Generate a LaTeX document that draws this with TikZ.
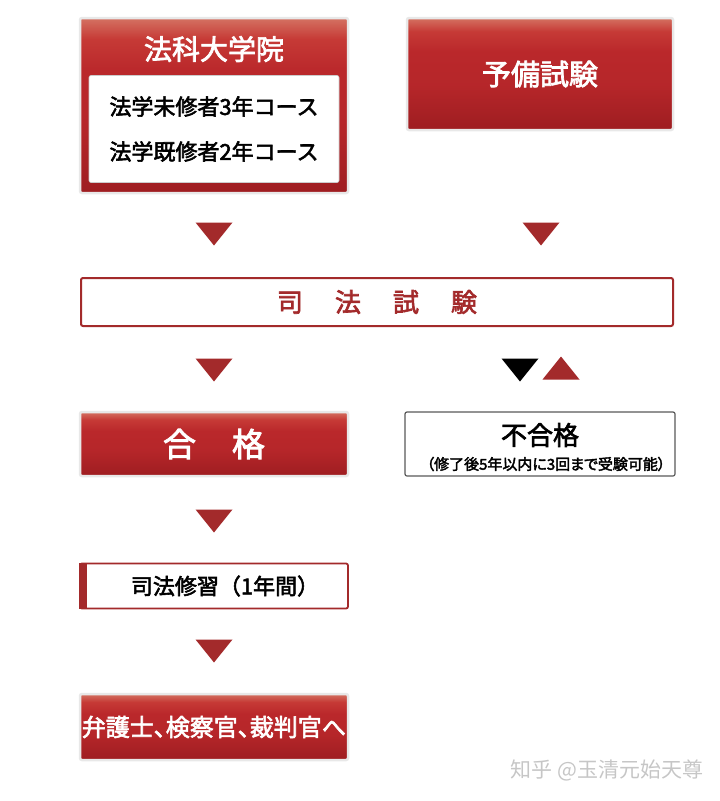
\documentclass[tikz,border=0pt]{standalone}
\usepackage{fontspec}
\setmainfont{Noto Sans CJK JP}[AutoFakeBold=2.5]
\newfontfamily\palt{Noto Sans CJK JP}[AutoFakeBold=2.5, RawFeature=+palt]
\newfontfamily\zhfont{Noto Sans CJK SC}
\usetikzlibrary{positioning}
\definecolor{trired}{HTML}{A32A2B}
\definecolor{redtop}{HTML}{D47262}
\definecolor{redhi}{HTML}{C63A36}
\definecolor{redmid}{HTML}{BA282B}
\definecolor{redbot}{HTML}{9E1D21}
\pgfdeclareverticalshading{redgloss}{100bp}{color(0bp)=(redbot); color(25bp)=(redbot);
	color(45bp)=(redmid!85!redbot); color(60bp)=(redmid); color(69bp)=(redhi); color(75bp)=(redtop); color(100bp)=(redtop)}
\newcommand{\fs}[1]{\fontsize{#1}{#1}\selectfont}

\begin{document}
\begin{tikzpicture}[x=1pt, y=-1pt,
	redbox/.style={draw=gray!18, line width=2.5pt, rounded corners=2pt,
		shading=redgloss, text=white, font=\bfseries, inner sep=0pt},
	whitebox/.style={fill=white, rounded corners=2pt, inner sep=0pt},
	tridown/.pic={\fill[trired] (-18.5,-11.5) -- (18.5,-11.5) -- (0,11.5) -- cycle;},
	blacktri/.pic={\fill[black] (-18.5,-11.5) -- (18.5,-11.5) -- (0,11.5) -- cycle;},
	triup/.pic={\fill[trired] (-18.5,11.5) -- (18.5,11.5) -- (0,-11.5) -- cycle;}]
	\useasboundingbox (0,0) rectangle (720,801);
	% top row
	\node[redbox, minimum width=268, minimum height=175] (law) at (214,105.5) {};
	\node[text=white, font=\bfseries\fs{28}] (lawtitle) at (214,49) {法科大学院};
	\node[whitebox, draw=gray!40, line width=.6pt, minimum width=250, minimum height=107,
		align=center, font=\bfseries\fs{22}] (course) at (214,129)
		{法学未修者3年コース\\[23pt]法学既修者2年コース};
	\node[redbox, minimum width=266, minimum height=112, font=\bfseries\fs{29}] (prelim) at (540,74) {予備試験};
	\pic at (214,234) {tridown};
	\pic at (541,234) {tridown};
	% bar exam
	\node[whitebox, draw=trired, line width=2pt, minimum width=592, minimum height=48,
		text=trired, font=\bfseries\fs{26}] (bar) at (377,302)
		{司\hspace{32pt}法\hspace{32pt}試\hspace{32pt}験};
	\pic at (214,370) {tridown};
	\pic at (520,370) {blacktri};
	\pic at (561,368) {triup};
	% results
	\node[redbox, minimum width=268, minimum height=64, font=\bfseries\fs{33}] (pass) at (214,444) {合\hspace{36pt}格};
	\node[whitebox, draw=gray!70!black, line width=1.2pt, minimum width=270, minimum height=64] (fail) at (540,444) {};
	\node[font=\bfseries\fs{26}] (failtitle) at (540,435) {不合格};
	\node[font=\palt\bfseries\fs{15}] (failnote) at (546,464) {（修了後5年以内に3回まで受験可能）};
	\pic at (214,521) {tridown};
	% training
	\node[whitebox, draw=trired, line width=1.8pt, minimum width=268, minimum height=45] (train) at (214,586) {};
	\fill[trired] (train.north west) rectangle ([xshift=8pt]train.south west);
	\node[font=\bfseries\fs{22}] (traintext) at (225,586) {司法修習（1年間）};
	\pic at (214,651) {tridown};
	\node[redbox, minimum width=268, minimum height=66, font=\palt\bfseries\fs{24}] (career) at (214,727)
		{弁護士、検察官、裁判官へ};
	% watermark
	\node[text=gray!45, font=\zhfont\fs{21}] (mark) at (607,770) {知乎 @玉清元始天尊};
\end{tikzpicture}
\end{document}
